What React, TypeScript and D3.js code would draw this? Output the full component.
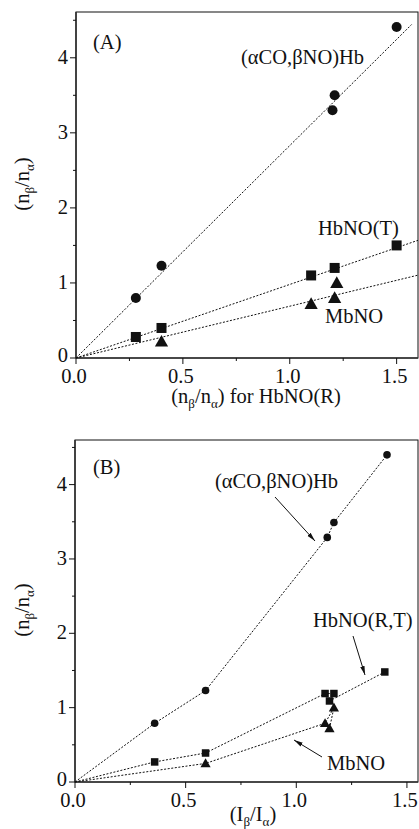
import React from 'react'
import * as d3 from 'd3'

// panel A: (nβ/nα) vs (nβ/nα) for HbNO(R)
const aCoNoX = [0.28, 0.40, 1.20, 1.21, 1.50]
const aCoNoY = [0.80, 1.23, 3.30, 3.50, 4.41]
const aHbTX = [0.28, 0.40, 1.10, 1.21, 1.50]
const aHbTY = [0.28, 0.40, 1.10, 1.20, 1.50]
const aMbX = [0.40, 1.10, 1.21, 1.22]
const aMbY = [0.22, 0.72, 0.80, 1.00]
// fitted lines through origin: slope, end x
const aFitSlope = [2.83, 0.98, 0.69]
const aFitEnd = [1.57, 1.6, 1.6]

// panel B: (nβ/nα) vs (Iβ/Iα)
const bCoNoX = [0.36, 0.59, 1.14, 1.17, 1.41]
const bCoNoY = [0.79, 1.23, 3.29, 3.49, 4.40]
const bHbX = [0.36, 0.59, 1.13, 1.17, 1.15, 1.40]
const bHbY = [0.27, 0.39, 1.19, 1.19, 1.09, 1.48]
const bMbX = [0.59, 1.13, 1.17, 1.15]
const bMbY = [0.25, 0.79, 1.00, 0.72]

const xTicks = [0, 0.5, 1.0, 1.5]
const xMinor = [0.25, 0.75, 1.25]
const yTicks = [0, 1, 2, 3, 4]
const yMinor = [0.5, 1.5, 2.5, 3.5, 4.5]

const font = '"Liberation Serif", "Times New Roman", serif'
const ink = '#111'
const dash = '2,1.6'
const fs = 20.5

type Pt = [number, number]
const zip = (xs: number[], ys: number[]): Pt[] => xs.map((x, i) => [x, ys[i]])

const Circle = ({ x, y, r }: { x: number; y: number; r: number }) => <circle cx={x} cy={y} r={r} fill={ink} />
const Square = ({ x, y, s }: { x: number; y: number; s: number }) => <rect x={x - s / 2} y={y - s / 2} width={s} height={s} fill={ink} />
const Tri = ({ x, y, s }: { x: number; y: number; s: number }) => (
  <path d={`M${x},${y - s * 0.6}L${x + s * 0.6},${y + s * 0.45}L${x - s * 0.6},${y + s * 0.45}Z`} fill={ink} />
)

const Frame = ({ x, y, left, right, top, bottom }: any) => (
  <g fontFamily={font} fontSize={fs} fill={ink}>
    <rect x={left} y={top} width={right - left} height={bottom - top} fill="none" stroke={ink} strokeWidth={1} />
    <line x1={left} x2={left} y1={top} y2={bottom} stroke="#333" strokeWidth={1.6} />
    <line x1={left} x2={right} y1={bottom} y2={bottom} stroke="#333" strokeWidth={1.6} />
    {yTicks.map(t => (
      <g key={'y' + t}>
        <line x1={left - 6} x2={left} y1={y(t)} y2={y(t)} stroke={ink} />
        <text x={left - 8} y={y(t) + (t === 0 ? 4 : 6)} textAnchor="end">{t}</text>
      </g>
    ))}
    {yMinor.map(t => <line key={'ym' + t} x1={left - 3} x2={left} y1={y(t)} y2={y(t)} stroke={ink} />)}
    {xTicks.map(t => (
      <g key={'x' + t}>
        <line x1={x(t)} x2={x(t)} y1={bottom} y2={bottom + 6} stroke={ink} />
        <text x={x(t) - 2} y={bottom + 25} textAnchor="middle">{t.toFixed(1)}</text>
      </g>
    ))}
    {xMinor.map(t => <line key={'xm' + t} x1={x(t)} x2={x(t)} y1={bottom} y2={bottom + 3} stroke={ink} />)}
  </g>
)

const YTitle = ({ cx, cy }: { cx: number; cy: number }) => (
  <text transform={`translate(${cx},${cy}) rotate(-90)`} textAnchor="middle" fontFamily={font} fontSize={fs} fill={ink}>
    (n<tspan fontSize={13} dy={5}>β</tspan><tspan dy={-5}>/n</tspan><tspan fontSize={13} dy={5}>α</tspan><tspan dy={-5}>)</tspan>
  </text>
)

export default function App() {
  // panel A scales
  const xA = d3.scaleLinear().domain([0, 1.6]).range([76, 418])
  const yA = d3.scaleLinear().domain([0, 4.61]).range([358, 12])
  // panel B scales
  const xB = d3.scaleLinear().domain([0, 1.55]).range([75, 418])
  const yB = d3.scaleLinear().domain([0, 4.6]).range([782, 440])

  const lineA = d3.line<Pt>().x(d => xA(d[0])).y(d => yA(d[1]))
  const lineB = d3.line<Pt>().x(d => xB(d[0])).y(d => yB(d[1]))

  const fits = aFitSlope.map((s, i) => lineA([[0, 0], [aFitEnd[i], aFitEnd[i] * s]]))

  return (
    <svg width={419} height={829} style={{ position: 'absolute', left: 0, top: 0, background: '#fff' }}>
      <defs>
        <marker id="ah" viewBox="0 0 10 10" refX={10} refY={5} markerWidth={9} markerHeight={9} orient="auto" markerUnits="userSpaceOnUse">
          <path d="M0,2.5L10,5L0,7.5Z" fill={ink} />
        </marker>
      </defs>

      {/* ---------- panel A ---------- */}
      <Frame x={xA} y={yA} left={76} right={418} top={12} bottom={358} />
      {fits.map((d, i) => <path key={i} d={d || ''} fill="none" stroke={ink} strokeWidth={1} strokeDasharray={dash} />)}
      {zip(aCoNoX, aCoNoY).map((p, i) => <Circle key={i} x={xA(p[0])} y={yA(p[1])} r={5} />)}
      {zip(aHbTX, aHbTY).map((p, i) => <Square key={i} x={xA(p[0])} y={yA(p[1])} s={10} />)}
      {zip(aMbX, aMbY).map((p, i) => <Tri key={i} x={xA(p[0])} y={yA(p[1])} s={11} />)}
      <g fontFamily={font} fontSize={fs} fill={ink}>
        <text x={93} y={49}>(A)</text>
        <text x={241} y={64}>(αCO,βNO)Hb</text>
        <text x={318} y={235}>HbNO(T)</text>
        <text x={325} y={323}>MbNO</text>
        <text x={256} y={403} textAnchor="middle">
          (n<tspan fontSize={13} dy={5}>β</tspan><tspan dy={-5}>/n</tspan><tspan fontSize={13} dy={5}>α</tspan><tspan dy={-5}>) for HbNO(R)</tspan>
        </text>
      </g>
      <YTitle cx={29} cy={184} />

      {/* ---------- panel B ---------- */}
      <Frame x={xB} y={yB} left={75} right={418} top={440} bottom={782} />
      <path d={lineB([[0, 0], ...zip(bCoNoX, bCoNoY)]) || ''} fill="none" stroke={ink} strokeWidth={1} strokeDasharray={dash} />
      <path d={lineB([[0, 0], ...zip(bHbX, bHbY)]) || ''} fill="none" stroke={ink} strokeWidth={1} strokeDasharray={dash} />
      <path d={lineB([[0, 0], ...zip(bMbX, bMbY)]) || ''} fill="none" stroke={ink} strokeWidth={1} strokeDasharray={dash} />
      {zip(bCoNoX, bCoNoY).map((p, i) => <Circle key={i} x={xB(p[0])} y={yB(p[1])} r={3.8} />)}
      {zip(bHbX, bHbY).map((p, i) => <Square key={i} x={xB(p[0])} y={yB(p[1])} s={7.5} />)}
      {zip(bMbX, bMbY).map((p, i) => <Tri key={i} x={xB(p[0])} y={yB(p[1])} s={8.5} />)}
      <g stroke={ink} strokeWidth={1}>
        <line x1={275} y1={497} x2={315} y2={541} markerEnd="url(#ah)" />
        <line x1={353} y1={636} x2={365} y2={675} markerEnd="url(#ah)" />
        <line x1={322} y1={757} x2={294} y2={740} markerEnd="url(#ah)" />
      </g>
      <g fontFamily={font} fontSize={fs} fill={ink}>
        <text x={93} y={474}>(B)</text>
        <text x={215} y={488}>(αCO,βNO)Hb</text>
        <text x={313} y={627}>HbNO(R,T)</text>
        <text x={327} y={770}>MbNO</text>
        <text x={253} y={821} textAnchor="middle">
          (I<tspan fontSize={13} dy={5}>β</tspan><tspan dy={-5}>/I</tspan><tspan fontSize={13} dy={5}>α</tspan><tspan dy={-5}>)</tspan>
        </text>
      </g>
      <YTitle cx={29} cy={610} />
    </svg>
  )
}
